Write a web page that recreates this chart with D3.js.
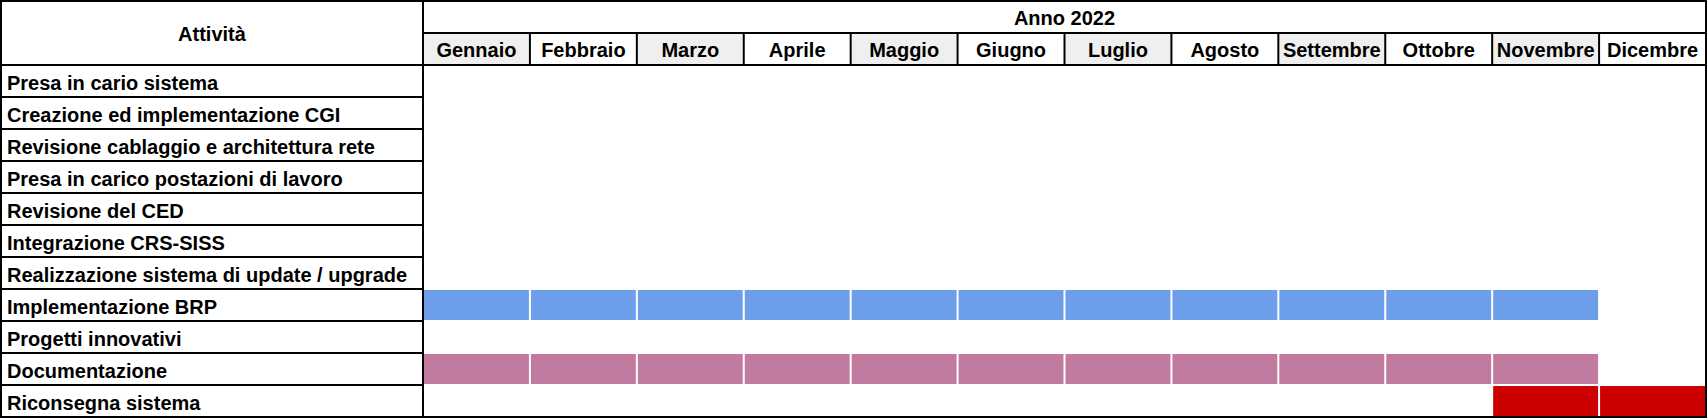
<!DOCTYPE html>
<html>
<head>
<meta charset="utf-8">
<script src="https://cdn.jsdelivr.net/npm/d3@7"></script>
<style>
  html, body { margin: 0; padding: 0; background: #ffffff; }
  svg { display: block; }
  text { font-family: "Liberation Sans", Arial, sans-serif; font-weight: bold; fill: #000; }
</style>
</head>
<body>
<svg id="chart" width="1708" height="418"></svg>
<script>
// ---- data ----
const yearLabel = "Anno 2022";
const activityHeader = "Attività";
const months = ["Gennaio", "Febbraio", "Marzo", "Aprile", "Maggio", "Giugno",
                "Luglio", "Agosto", "Settembre", "Ottobre", "Novembre", "Dicembre"];
const activities = [
  "Presa in cario sistema",
  "Creazione ed implementazione CGI",
  "Revisione cablaggio e architettura rete",
  "Presa in carico postazioni di lavoro",
  "Revisione del CED",
  "Integrazione CRS-SISS",
  "Realizzazione sistema di update / upgrade",
  "Implementazione BRP",
  "Progetti innovativi",
  "Documentazione",
  "Riconsegna sistema"
];
// scheduled months per activity (only those with bars)
const brpMonths = ["Gennaio", "Febbraio", "Marzo", "Aprile", "Maggio", "Giugno",
                   "Luglio", "Agosto", "Settembre", "Ottobre", "Novembre"];
const docMonths = ["Gennaio", "Febbraio", "Marzo", "Aprile", "Maggio", "Giugno",
                   "Luglio", "Agosto", "Settembre", "Ottobre", "Novembre"];
const riconsegnaMonths = ["Novembre", "Dicembre"];
// shaded header months
const shadedMonths = ["Gennaio", "Marzo", "Maggio", "Luglio", "Settembre", "Novembre"];

// ---- layout ----
const svg = d3.select("#chart");
const L = 1, R = 1706, T = 1, B = 417;
const colX = 423;          // end of activity column
const headerMid = 33;      // line between year and months
const headerBottom = 65;   // end of header

const x = d3.scaleBand().domain(months).range([colX, R]).padding(0);
const y = d3.scaleBand().domain(activities).range([headerBottom, B]).padding(0);

const series = [
  { activity: "Implementazione BRP", months: brpMonths, color: "#6d9eeb" },
  { activity: "Documentazione", months: docMonths, color: "#c27ba0" },
  { activity: "Riconsegna sistema", months: riconsegnaMonths, color: "#cc0000" }
];
const cells = series.flatMap(s => s.months.map(m => ({ activity: s.activity, month: m, color: s.color })));

// header shading
svg.append("g").selectAll("rect")
  .data(shadedMonths)
  .join("rect")
  .attr("x", d => x(d))
  .attr("y", headerMid)
  .attr("width", x.bandwidth())
  .attr("height", headerBottom - headerMid)
  .attr("fill", "#efefef");

// bars
svg.append("g").selectAll("rect")
  .data(cells)
  .join("rect")
  .attr("x", d => x(d.month) + 1)
  .attr("y", d => y(d.activity) + 1)
  .attr("width", x.bandwidth() - 2)
  .attr("height", y.bandwidth() - 2)
  .attr("fill", d => d.color);

// grid lines
const lines = svg.append("g").attr("stroke", "#000").attr("stroke-width", 2);
lines.append("g").selectAll("line")
  .data(activities.slice(1))
  .join("line")
  .attr("x1", L).attr("x2", colX)
  .attr("y1", d => y(d)).attr("y2", d => y(d));
lines.append("line").attr("x1", L).attr("x2", R).attr("y1", headerBottom).attr("y2", headerBottom);
lines.append("line").attr("x1", colX).attr("x2", R).attr("y1", headerMid).attr("y2", headerMid);
lines.append("g").selectAll("line")
  .data(months.slice(1))
  .join("line")
  .attr("x1", d => x(d)).attr("x2", d => x(d))
  .attr("y1", headerMid).attr("y2", headerBottom);
lines.append("line").attr("x1", colX).attr("x2", colX).attr("y1", T).attr("y2", B);
svg.append("rect")
  .attr("x", L).attr("y", T)
  .attr("width", R - L).attr("height", B - T)
  .attr("fill", "none").attr("stroke", "#000").attr("stroke-width", 2);

// texts
const fs = 20;
svg.append("text")
  .attr("x", (L + colX) / 2).attr("y", 41)
  .attr("text-anchor", "middle").attr("font-size", fs)
  .text(activityHeader);
svg.append("text")
  .attr("x", (colX + R) / 2).attr("y", 25)
  .attr("text-anchor", "middle").attr("font-size", fs)
  .text(yearLabel);
svg.append("g").selectAll("text")
  .data(months)
  .join("text")
  .attr("x", d => x(d) + x.bandwidth() / 2)
  .attr("y", headerBottom - 8)
  .attr("text-anchor", "middle").attr("font-size", fs)
  .text(d => d);
svg.append("g").selectAll("text")
  .data(activities)
  .join("text")
  .attr("x", 7)
  .attr("y", d => y(d) + 25)
  .attr("font-size", fs)
  .text(d => d);
</script>
</body>
</html>
